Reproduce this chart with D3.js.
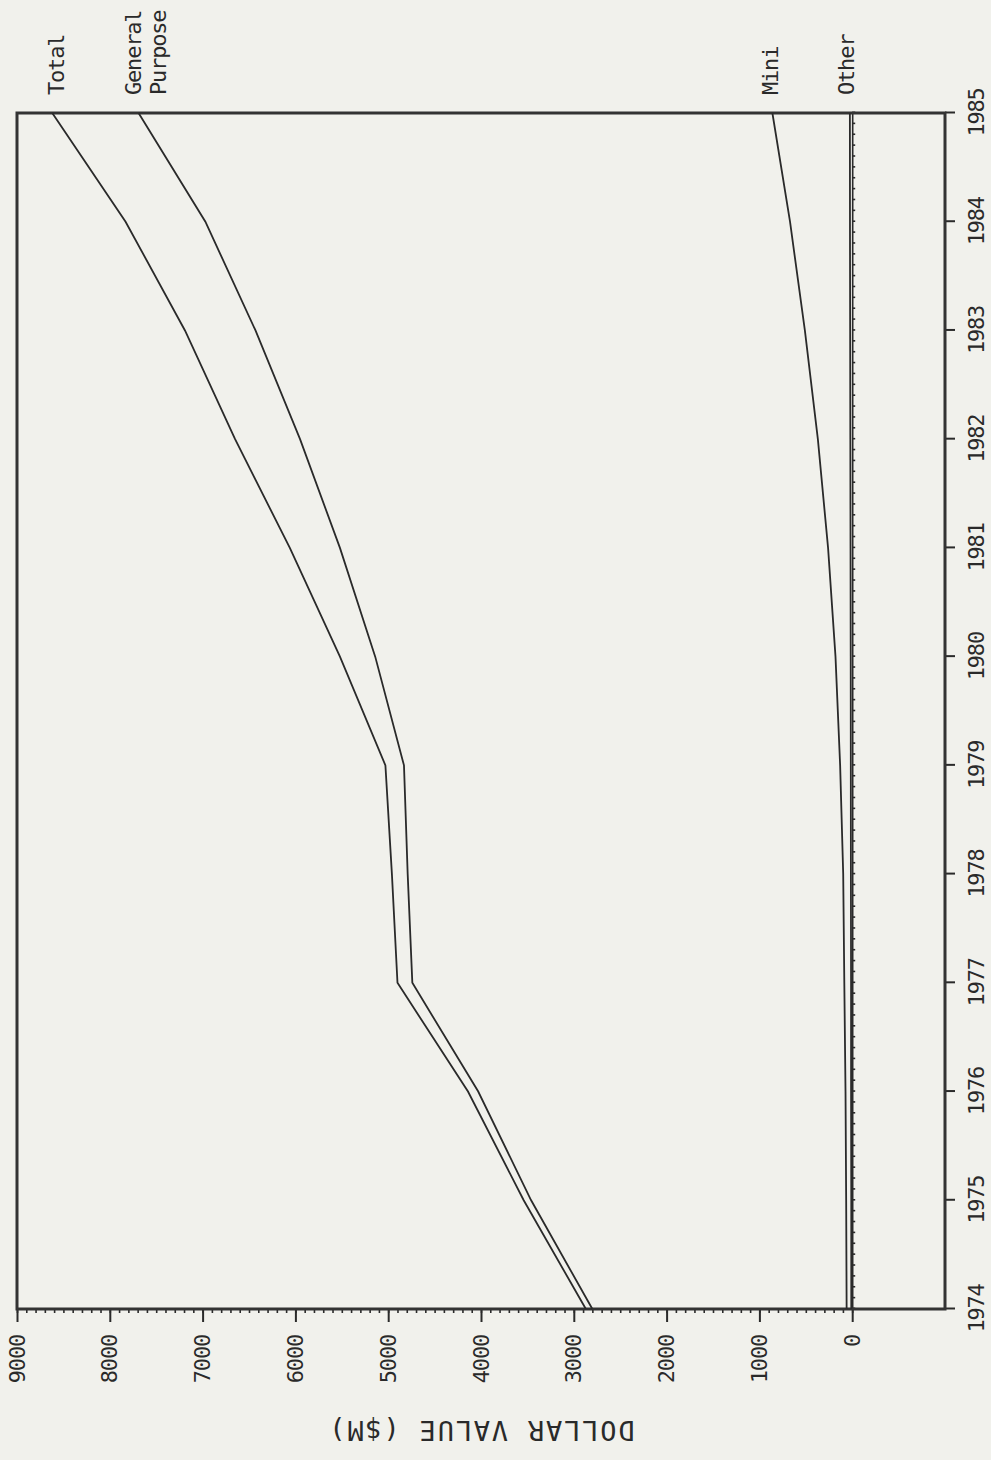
<!DOCTYPE html>
<html>
<head>
<meta charset="utf-8">
<script src="https://cdn.jsdelivr.net/npm/d3@7"></script>
<style>
  body { margin: 0; background: #f1f1ec; }
  svg { display: block; }
  text { font-family: "DejaVu Sans Mono", monospace; fill: #2a2a2a; }
</style>
</head>
<body>
<div id="chart"></div>
<script>
// values in $M
const years = [1974, 1975, 1976, 1977, 1978, 1979, 1980, 1981, 1982, 1983, 1984, 1985];
const total = [2870, 3540, 4140, 4900, 4960, 5030, 5520, 6060, 6650, 7190, 7830, 8620];
const generalPurpose = [2800, 3460, 4030, 4740, 4790, 4830, 5140, 5520, 5950, 6430, 6970, 7690];
const mini = [60, 65, 72, 85, 97, 130, 180, 260, 370, 510, 670, 860];
const other = [10, 10, 12, 12, 14, 15, 16, 18, 20, 22, 24, 25];
const valueTicks = [0, 1000, 2000, 3000, 4000, 5000, 6000, 7000, 8000, 9000];

const series = [
    { name: ["Total"], values: total, dy: 4 },
    { name: ["General", "Purpose"], values: generalPurpose, dy: -5 },
    { name: ["Mini"], values: mini, dy: -2 },
    { name: ["Other"], values: other, dy: -4 }
];

// chart is drawn upright, then the whole group is turned 90deg counter-clockwise
const W = 1460, H = 991;
const ink = "#2a2a2a";

let svg = d3.select("#chart").append("svg")
    .attr("width", H)
    .attr("height", W);

svg.append("rect").attr("width", H).attr("height", W).attr("fill", "#f1f1ec");

let g = svg.append("g").attr("transform", `translate(0,${W}) rotate(-90)`);

let x = d3.scaleLinear().domain([1974, 1985]).range([151, 1347]);
let y = d3.scaleLinear().domain([-1000, 9000]).range([945, 17]);

// minor ticks on value axis
g.append("g")
    .attr("transform", `translate(${x(1974)},0)`)
    .call(d3.axisLeft(y).tickValues(d3.range(0, 9001, 100)).tickSize(4).tickFormat(""))
    .call(a => a.select(".domain").remove())
    .selectAll("line").attr("stroke", ink).attr("stroke-width", 1.6);

// major ticks + labels on value axis
g.append("g")
    .attr("transform", `translate(${x(1974)},0)`)
    .call(d3.axisLeft(y).tickValues(valueTicks).tickSize(13).tickPadding(13).tickFormat(d3.format("d")))
    .call(a => a.select(".domain").remove())
    .call(a => a.selectAll("line").attr("stroke", ink).attr("stroke-width", 2))
    .call(a => a.selectAll("text").attr("font-size", 22).attr("letter-spacing", "-1.2px")
        .attr("font-family", "DejaVu Sans Mono").attr("fill", ink));

// year axis
g.append("g")
    .attr("transform", `translate(0,${y(-1000)})`)
    .call(d3.axisBottom(x).tickValues(years).tickSize(10).tickPadding(13).tickFormat(d3.format("d")))
    .call(a => a.select(".domain").remove())
    .call(a => a.selectAll("line").attr("stroke", ink).attr("stroke-width", 2))
    .call(a => a.selectAll("text").attr("font-size", 22).attr("letter-spacing", "-1.2px")
        .attr("font-family", "DejaVu Sans Mono").attr("fill", ink));

// zero line with small tenth-of-year ticks
g.append("g")
    .attr("transform", `translate(0,${y(0)})`)
    .call(d3.axisBottom(x).tickValues(d3.range(1974, 1985.01, 0.1)).tickSize(3).tickFormat(""))
    .call(a => a.select(".domain").attr("stroke", ink).attr("stroke-width", 1.6))
    .selectAll("line").attr("stroke", ink).attr("stroke-width", 1.6);

// frame
g.append("rect")
    .attr("x", x(1974)).attr("y", y(9000))
    .attr("width", x(1985) - x(1974)).attr("height", y(-1000) - y(9000))
    .attr("fill", "none").attr("stroke", "#333").attr("stroke-width", 3);

let line = d3.line().x((d, i) => x(years[i])).y(d => y(d));

g.selectAll(".series")
    .data(series)
    .enter()
    .append("path")
    .attr("class", "series")
    .attr("d", d => line(d.values))
    .attr("fill", "none")
    .attr("stroke", ink)
    .attr("stroke-width", 1.8);

// labels at the line ends
series.forEach(s => {
    let last = s.values[s.values.length - 1];
    let t = g.append("text")
        .attr("x", x(1985) + 18)
        .attr("y", y(last) + s.dy)
        .attr("font-size", 22)
        .attr("letter-spacing", "-1.2px")
        .attr("fill", ink);
    s.name.forEach((n, i) => {
        t.append("tspan")
            .attr("x", x(1985) + 18)
            .attr("dy", i === 0 ? "0.35em" : 25)
            .text(n);
    });
});

// axis title
g.append("text")
    .attr("transform", `translate(30,${(y(9000) + y(-1000)) / 2}) rotate(-90)`)
    .attr("text-anchor", "middle")
    .attr("dy", "0.35em")
    .attr("font-size", 27)
    .attr("letter-spacing", "1.8px")
    .attr("fill", ink)
    .text("DOLLAR VALUE ($M)");
</script>
</body>
</html>
